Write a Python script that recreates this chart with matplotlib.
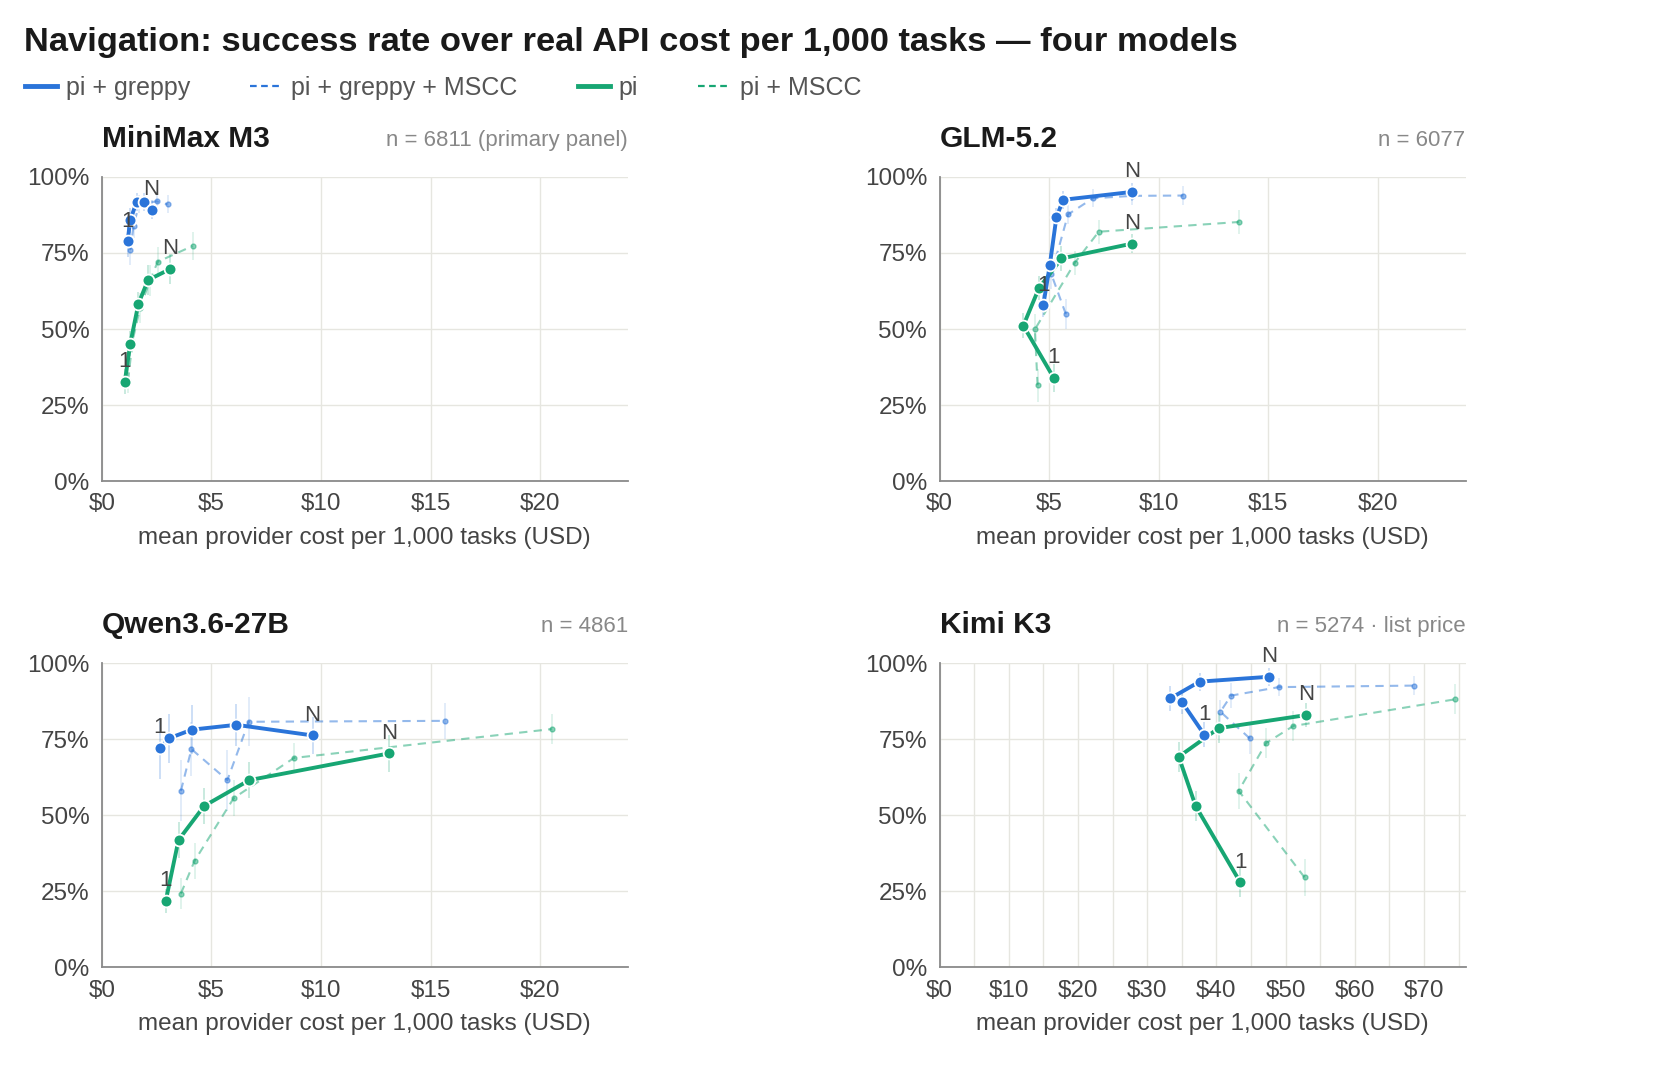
import matplotlib
matplotlib.use("Agg")
import matplotlib.pyplot as plt
from matplotlib.lines import Line2D

plt.rcParams['font.family'] = ['Liberation Sans', 'DejaVu Sans']

BLUE = '#2a74d9'
GREEN = '#17a673'

# MiniMax M3  (cost USD per 1k tasks, success %, CI half width)
mm_pg_cost = [1.18, 1.29, 1.59, 1.94, 2.27]
mm_pg_rate = [78.8, 85.7, 91.8, 91.8, 89.3]
mm_pg_err = [5, 4, 3, 3, 3]
mm_pgm_cost = [1.3, 1.45, 1.7, 2.5, 3.0]
mm_pgm_rate = [76, 84, 91, 92, 91]
mm_pgm_err = [5, 4, 3, 3, 3]
mm_pi_cost = [1.05, 1.30, 1.67, 2.11, 3.11]
mm_pi_rate = [32.7, 45.2, 58.3, 66.1, 69.7]
mm_pi_err = [4, 4, 4, 5, 5]
mm_pim_cost = [1.2, 1.4, 1.75, 2.2, 2.55, 4.14]
mm_pim_rate = [33, 46, 57, 66, 72.1, 77.3]
mm_pim_err = [4, 4, 5, 5, 5, 4.5]

# GLM-5.2
glm_pg_cost = [4.73, 5.03, 5.33, 5.64, 8.79]
glm_pg_rate = [57.8, 71.1, 86.8, 92.5, 95.1]
glm_pg_err = [4, 4, 3, 3, 3]
glm_pgm_cost = [5.76, 5.1, 5.86, 7.0, 8.8, 11.12]
glm_pgm_rate = [54.9, 68, 87.7, 93, 93.8, 93.9]
glm_pgm_err = [5, 5, 3, 3, 3, 3]
glm_pi_cost = [5.21, 3.82, 4.53, 5.56, 8.79]
glm_pi_rate = [33.9, 51.1, 63.4, 73.2, 78.1]
glm_pi_err = [4.5, 4, 4, 4, 3]
glm_pim_cost = [4.47, 4.35, 6.17, 7.26, 13.65]
glm_pim_rate = [31.5, 49.9, 71.8, 82.0, 85.2]
glm_pim_err = [5.5, 5, 4, 4, 4]

# Qwen3.6-27B
qw_pg_cost = [2.65, 3.08, 4.11, 6.14, 9.62]
qw_pg_rate = [72.1, 75.4, 78.2, 79.8, 76.3]
qw_pg_err = [10, 8, 8, 7, 6]
qw_pgm_cost = [3.61, 4.09, 5.73, 6.70, 15.68]
qw_pgm_rate = [58.1, 71.8, 61.6, 80.8, 81.1]
qw_pgm_err = [10, 9, 10, 8, 6]
qw_pi_cost = [2.92, 3.5, 4.67, 6.73, 13.11]
qw_pi_rate = [21.9, 41.9, 53.1, 61.6, 70.4]
qw_pi_err = [4, 6, 6, 6, 6]
qw_pim_cost = [3.61, 4.23, 6.02, 8.77, 20.53]
qw_pim_rate = [24.3, 35.0, 55.7, 68.9, 78.4]
qw_pim_err = [5, 6, 6, 5, 5]

# Kimi K3
km_pg_cost = [38.23, 35.02, 33.35, 37.56, 47.61]
km_pg_rate = [76.6, 87.3, 88.5, 94.0, 95.6]
km_pg_err = [4, 4, 4, 3, 3]
km_pgm_cost = [44.83, 40.57, 42.11, 49.0, 68.56]
km_pgm_rate = [75.3, 84.1, 89.4, 92.2, 92.7]
km_pgm_err = [5, 4, 4, 3, 3]
km_pi_cost = [43.44, 36.99, 34.55, 40.33, 52.97]
km_pi_rate = [28.0, 53.1, 69.3, 78.7, 83.0]
km_pi_err = [5, 5, 5, 5, 4]
km_pim_cost = [52.73, 43.21, 47.18, 51.1, 74.5]
km_pim_rate = [29.6, 58.1, 73.8, 79.4, 88.2]
km_pim_err = [6, 6, 5, 5, 5]

panels = [
    ("MiniMax M3", "n = 6811 (primary panel)", 24, 5, 5,
     [(mm_pim_cost, mm_pim_rate, mm_pim_err, GREEN, True),
      (mm_pgm_cost, mm_pgm_rate, mm_pgm_err, BLUE, True),
      (mm_pi_cost, mm_pi_rate, mm_pi_err, GREEN, False),
      (mm_pg_cost, mm_pg_rate, mm_pg_err, BLUE, False)]),
    ("GLM-5.2", "n = 6077", 24, 5, 5,
     [(glm_pim_cost, glm_pim_rate, glm_pim_err, GREEN, True),
      (glm_pgm_cost, glm_pgm_rate, glm_pgm_err, BLUE, True),
      (glm_pi_cost, glm_pi_rate, glm_pi_err, GREEN, False),
      (glm_pg_cost, glm_pg_rate, glm_pg_err, BLUE, False)]),
    ("Qwen3.6-27B", "n = 4861", 24, 5, 5,
     [(qw_pim_cost, qw_pim_rate, qw_pim_err, GREEN, True),
      (qw_pgm_cost, qw_pgm_rate, qw_pgm_err, BLUE, True),
      (qw_pi_cost, qw_pi_rate, qw_pi_err, GREEN, False),
      (qw_pg_cost, qw_pg_rate, qw_pg_err, BLUE, False)]),
    ("Kimi K3", "n = 5274 \u00b7 list price", 76, 5, 10,
     [(km_pim_cost, km_pim_rate, km_pim_err, GREEN, True),
      (km_pgm_cost, km_pgm_rate, km_pgm_err, BLUE, True),
      (km_pi_cost, km_pi_rate, km_pi_err, GREEN, False),
      (km_pg_cost, km_pg_rate, km_pg_err, BLUE, False)]),
]

fig = plt.figure(figsize=(16.8, 10.66), dpi=100)

W, H = 1680, 1066
lefts = [101.8, 939.6]
bottoms = [481, 967.4]
aw, ah = 526, 304
positions = [(lefts[0], bottoms[0]), (lefts[1], bottoms[0]),
             (lefts[0], bottoms[1]), (lefts[1], bottoms[1])]

for (title, note, xmax, gstep, lstep, series), (lx, by) in zip(panels, positions):
    ax = fig.add_axes([lx / W, 1 - by / H, aw / W, ah / H])
    ax.set_xlim(0, xmax)
    ax.set_ylim(0, 100)
    ticks = list(range(0, xmax + 1, gstep))
    ax.set_xticks(ticks)
    ax.set_xticklabels(['$%d' % t if t % lstep == 0 else '' for t in ticks])
    ax.set_yticks([0, 25, 50, 75, 100])
    ax.set_yticklabels(['0%', '25%', '50%', '75%', '100%'])
    ax.grid(True, color='#e6e6e0', lw=1)
    ax.set_axisbelow(True)
    for s in ['top', 'right']:
        ax.spines[s].set_visible(False)
    for s in ['left', 'bottom']:
        ax.spines[s].set_color('#8a8a8a')
        ax.spines[s].set_linewidth(1.3)
    ax.tick_params(length=0, labelsize=17.5, labelcolor='#444444', pad=9)
    ax.set_xlabel('mean provider cost per 1,000 tasks (USD)', fontsize=17.5,
                  color='#444444', labelpad=8)
    ax.text(0, 1.125, title, transform=ax.transAxes, fontsize=21.5,
            fontweight='bold', color='#1a1a1a', ha='left', va='center')
    ax.text(1, 1.12, note, transform=ax.transAxes, fontsize=16,
            color='#888888', ha='right', va='center')

    for x, y, e, col, dashed in series:
        if dashed:
            ax.errorbar(x, y, yerr=e, fmt='none', ecolor=col, alpha=0.15,
                        elinewidth=1.3, zorder=2)
            ax.plot(x, y, color=col, lw=1.5, ls=(0, (4, 3)), alpha=0.5,
                    marker='o', ms=3.5, zorder=3)
        else:
            ax.errorbar(x, y, yerr=e, fmt='none', ecolor=col, alpha=0.25,
                        elinewidth=1.3, zorder=4)
            ax.plot(x, y, color=col, lw=2.8, marker='o', ms=8.5,
                    mec='white', mew=1.3, zorder=5)
            ax.annotate('1', (x[0], y[0]), xytext=(0, 7),
                        textcoords='offset points', ha='center', va='bottom',
                        fontsize=16, color='#444444', zorder=6)
            ax.annotate('N', (x[-1], y[-1]), xytext=(0, 7),
                        textcoords='offset points', ha='center', va='bottom',
                        fontsize=16, color='#444444', zorder=6)

fig.text(23.6 / W, 1 - 43 / H,
         'Navigation: success rate over real API cost per 1,000 tasks \u2014 four models',
         fontsize=24.8, fontweight='bold', color='#1a1a1a', ha='left', va='center')

handles = [Line2D([], [], color=BLUE, lw=3.5),
           Line2D([], [], color=BLUE, lw=1.6, ls=(0, (3, 2))),
           Line2D([], [], color=GREEN, lw=3.5),
           Line2D([], [], color=GREEN, lw=1.6, ls=(0, (3, 2)))]
labels = ['pi + greppy', 'pi + greppy + MSCC', 'pi', 'pi + MSCC']
leg = fig.legend(handles, labels, loc='center left',
                 bbox_to_anchor=(2 / W, 1 - 88 / H), ncol=4, frameon=False,
                 fontsize=18, handlelength=1.3, handletextpad=0.35,
                 columnspacing=2.4)
for t in leg.get_texts():
    t.set_color('#555555')

fig.savefig('out.png', dpi=100)
